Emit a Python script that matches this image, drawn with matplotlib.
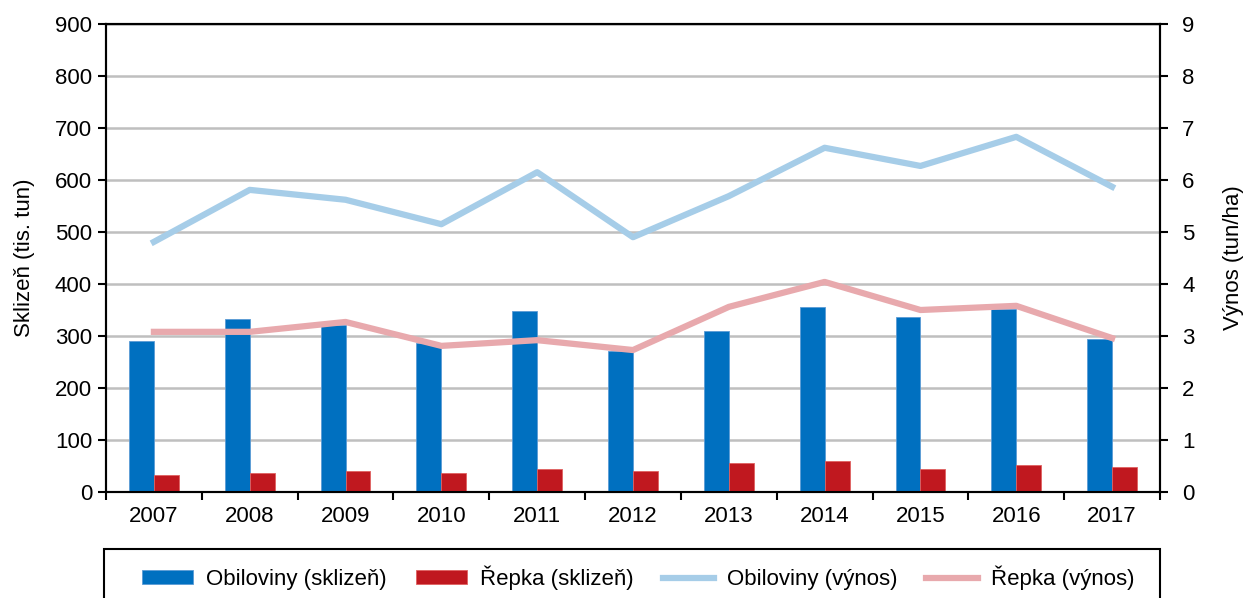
import numpy as np
import matplotlib
matplotlib.use("Agg")
import matplotlib.pyplot as plt
from matplotlib.patches import Rectangle

plt.rcParams['font.family'] = ['Liberation Sans', 'DejaVu Sans']

# === Data ===
years = ["2007", "2008", "2009", "2010", "2011", "2012", "2013", "2014", "2015", "2016", "2017"]
obil_sklizen = [290, 333, 321, 287, 348, 271, 310, 356, 337, 352, 294]
repka_sklizen = [33, 37, 40, 37, 44, 40, 56, 60, 44, 52, 48]
obil_vynos = [4.81, 5.81, 5.62, 5.15, 6.15, 4.90, 5.69, 6.62, 6.27, 6.83, 5.87]
repka_vynos = [3.08, 3.08, 3.27, 2.81, 2.92, 2.73, 3.56, 4.04, 3.50, 3.58, 2.96]

fs = 16
W, H = 1245, 598

# === Plot ===
fig = plt.figure(figsize=(W / 100, H / 100), dpi=100)
ax = fig.add_axes([106 / W, 1 - 492 / H, (1160 - 106) / W, (492 - 24) / H])
ax2 = ax.twinx()

x = np.arange(len(years))
w = 0.26
b1 = ax.bar(x - w / 2, obil_sklizen, w, color="#0070C0", edgecolor="#5B9BD5", linewidth=0.6,
            label="Obiloviny (sklizeň)", zorder=3)
b2 = ax.bar(x + w / 2, repka_sklizen, w, color="#C0181F", edgecolor="#E06060", linewidth=0.6,
            label="Řepka (sklizeň)", zorder=3)
l1, = ax2.plot(x, obil_vynos, color="#A6CDE8", linewidth=4.5, label="Obiloviny (výnos)")
l2, = ax2.plot(x, repka_vynos, color="#E8A9AD", linewidth=4.5, label="Řepka (výnos)")

ax.set_xlim(-0.5, len(years) - 0.5)
ax.set_ylim(0, 900)
ax.set_yticks(range(0, 901, 100))
ax2.set_ylim(0, 9)
ax2.set_yticks(range(0, 10))

ax.set_xticks(x)
ax.set_xticklabels(years)
ax.set_xticks(np.arange(-0.5, len(years), 1), minor=True)
ax.tick_params(axis="x", which="major", length=0, pad=10, labelsize=fs)
ax.tick_params(axis="x", which="minor", length=6, width=1.5, direction="out")
ax.tick_params(axis="y", length=6, width=1.5, labelsize=fs, pad=4)
ax2.tick_params(axis="y", length=6, width=1.5, labelsize=fs, pad=10)

ax.yaxis.grid(True, color="#BFBFBF", linewidth=1.8, zorder=0)
ax.set_axisbelow(True)
for a in (ax, ax2):
    for s in a.spines.values():
        s.set_linewidth(1.5)
        s.set_color("black")

ax.set_ylabel("Sklizeň (tis. tun)", fontsize=fs, labelpad=14)
ax2.set_ylabel("Výnos (tun/ha)", fontsize=fs, labelpad=20)

# legend box (bottom cut off by the figure edge, as in the original)
fig.patches.append(Rectangle((104 / W, 1 - 612 / H), (1160 - 104) / W, (612 - 549) / H,
                             transform=fig.transFigure, fill=False, edgecolor="black",
                             linewidth=1.5))
handles = [b1, b2, l1, l2]
leg = fig.legend(handles, [h.get_label() for h in handles], ncol=4,
                 loc="center", bbox_to_anchor=(638 / W, 1 - 578 / H),
                 frameon=False, fontsize=fs, handlelength=2.3, handleheight=0.6,
                 handletextpad=0.6, columnspacing=1.3)

fig.savefig("out.png", dpi=100)
